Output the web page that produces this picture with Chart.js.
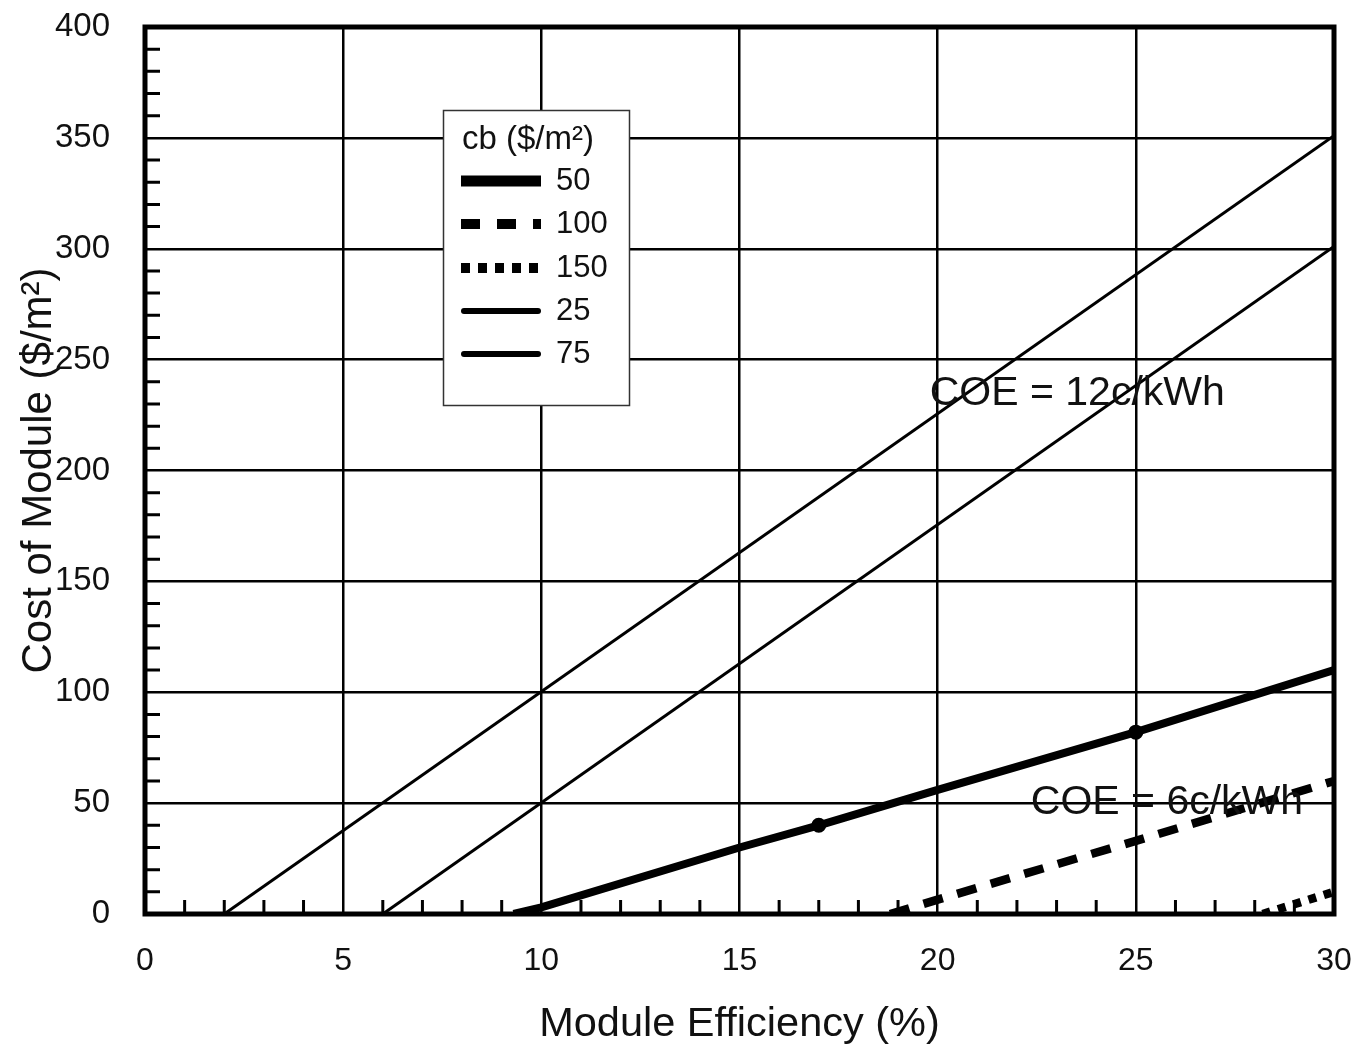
<!DOCTYPE html>
<html><head><meta charset="utf-8">
<script src="https://cdn.jsdelivr.net/npm/chart.js@4.4.0/dist/chart.umd.min.js"></script>
<style>html,body{margin:0;padding:0;background:#fff}canvas{display:block}</style>
</head><body>
<canvas id="c" width="1357" height="1049"></canvas>
<script>
// ---- data ----
const effCb50  = [9.3, 10, 15, 17, 20, 25, 30];
const costCb50 = [0, 3, 30, 40, 56, 82, 110];
const effCb100  = [18.8, 20, 25, 30];
const costCb100 = [0, 6.5, 33, 60];
const effCb150  = [28.2, 30];
const costCb150 = [0, 10];
const effCb25  = [2, 30];
const costCb25 = [0, 351];
const effCb75  = [6, 30];
const costCb75 = [0, 301];
const seriesLabels = ['50', '100', '150', '25', '75'];
const legendTitle = 'cb ($/m\u00B2)';
const noteTexts = ['COE = 12c/kWh', 'COE = 6c/kWh'];
const noteX = [19.8, 22.35];
const noteY = [234.5, 50];
const xTitle = 'Module Efficiency (%)';
const yTitle = 'Cost of Module ($/m\u00B2)';

const FONT = '"Liberation Sans", Arial, sans-serif';
const pts = (xs, ys) => xs.map((x, i) => ({x, y: ys[i]}));

const styles = [
  {w: 8, dash: [], lw: 11, ldash: [], cap: 'butt'},
  {w: 8.5, dash: [20, 15], lw: 10, ldash: [19, 17], cap: 'butt'},
  {w: 8.5, dash: [8, 8], lw: 10, ldash: [9, 8], cap: 'butt'},
  {w: 3, dash: [], lw: 6, ldash: [], cap: 'round'},
  {w: 3, dash: [], lw: 6, ldash: [], cap: 'round'}
];
const seriesData = [
  pts(effCb50, costCb50), pts(effCb100, costCb100), pts(effCb150, costCb150),
  pts(effCb25, costCb25), pts(effCb75, costCb75)
];

const frame = {
  id: 'frame',
  afterDatasetsDraw(chart) {
    const {ctx, chartArea: a, scales: {x, y}} = chart;
    ctx.save();
    ctx.strokeStyle = '#000';
    // minor ticks (inward)
    ctx.lineWidth = 3;
    ctx.beginPath();
    for (let v = 1; v < 30; v++) {
      if (v % 5 === 0) continue;
      const px = x.getPixelForValue(v);
      ctx.moveTo(px, a.bottom); ctx.lineTo(px, a.bottom - 14);
    }
    for (let v = 10; v < 400; v += 10) {
      if (v % 50 === 0) continue;
      const py = y.getPixelForValue(v);
      ctx.moveTo(a.left, py); ctx.lineTo(a.left + 15, py);
    }
    ctx.stroke();
    // frame
    ctx.lineWidth = 5;
    ctx.strokeRect(a.left, a.top, a.right - a.left, a.bottom - a.top);

    // annotations
    ctx.fillStyle = '#111';
    ctx.font = '41px ' + FONT;
    ctx.textAlign = 'left';
    ctx.textBaseline = 'middle';
    noteTexts.forEach((t, i) => {
      ctx.fillText(t, x.getPixelForValue(noteX[i]), y.getPixelForValue(noteY[i]));
    });

    // legend
    const L = 443, T = 110, W = 186, H = 295;
    ctx.fillStyle = '#fff';
    ctx.fillRect(L, T, W, H);
    ctx.lineWidth = 1.5;
    ctx.strokeStyle = '#333';
    ctx.strokeRect(L + 0.5, T + 0.5, W, H);
    ctx.fillStyle = '#111';
    ctx.font = '33px ' + FONT;
    ctx.fillText(legendTitle, L + 19, T + 30);
    const rows = [181, 224, 268, 311, 354];
    ctx.font = '31px ' + FONT;
    seriesLabels.forEach((lab, i) => {
      const s = styles[i];
      ctx.save();
      ctx.strokeStyle = '#000';
      ctx.lineWidth = s.lw;
      ctx.setLineDash(s.ldash);
      ctx.lineCap = s.cap;
      ctx.beginPath();
      const x0 = s.cap === 'round' ? L + 21 : L + 18;
      const x1 = s.cap === 'round' ? L + 95 : L + 98;
      ctx.moveTo(x0, rows[i]); ctx.lineTo(x1, rows[i]);
      ctx.stroke();
      ctx.restore();
      ctx.fillText(lab, L + 113, rows[i]);
    });
    ctx.restore();
  }
};

new Chart(document.getElementById('c'), {
  type: 'line',
  data: {
    datasets: seriesData.map((d, i) => ({
      label: seriesLabels[i],
      data: d,
      borderColor: '#000',
      backgroundColor: '#000',
      borderWidth: styles[i].w,
      borderDash: styles[i].dash,
      borderCapStyle: 'butt',
      pointRadius: i === 0 ? d.map(p => (p.x === 17 || p.x === 25) ? 3.5 : 0) : 0,
      pointHoverRadius: 0,
      tension: 0,
      fill: false
    }))
  },
  options: {
    responsive: false,
    animation: false,
    devicePixelRatio: 1,
    layout: {padding: {top: 27, right: 23, left: 0, bottom: 0}},
    plugins: {legend: {display: false}, tooltip: {enabled: false}},
    scales: {
      x: {
        type: 'linear', min: 0, max: 30,
        afterFit(s) { s.height = 135; s.paddingLeft = 0; s.paddingRight = 0; },
        ticks: {stepSize: 5, padding: 28, color: '#111', font: {family: FONT, size: 32}},
        grid: {color: '#000', lineWidth: 2.5, drawTicks: false},
        border: {display: false},
        title: {display: true, text: xTitle, color: '#111', font: {family: FONT, size: 41.5}, padding: {top: 0, bottom: 0}}
      },
      y: {
        type: 'linear', min: 0, max: 400,
        afterFit(s) { s.width = 145; s.paddingTop = 0; s.paddingBottom = 0; },
        ticks: {stepSize: 50, padding: 35, color: '#111', font: {family: FONT, size: 33}},
        grid: {color: '#000', lineWidth: 2.5, drawTicks: false},
        border: {display: false},
        title: {display: true, text: yTitle, color: '#111', font: {family: FONT, size: 42}, padding: {top: 14, bottom: 0}}
      }
    }
  },
  plugins: [frame]
});
</script>
</body></html>
